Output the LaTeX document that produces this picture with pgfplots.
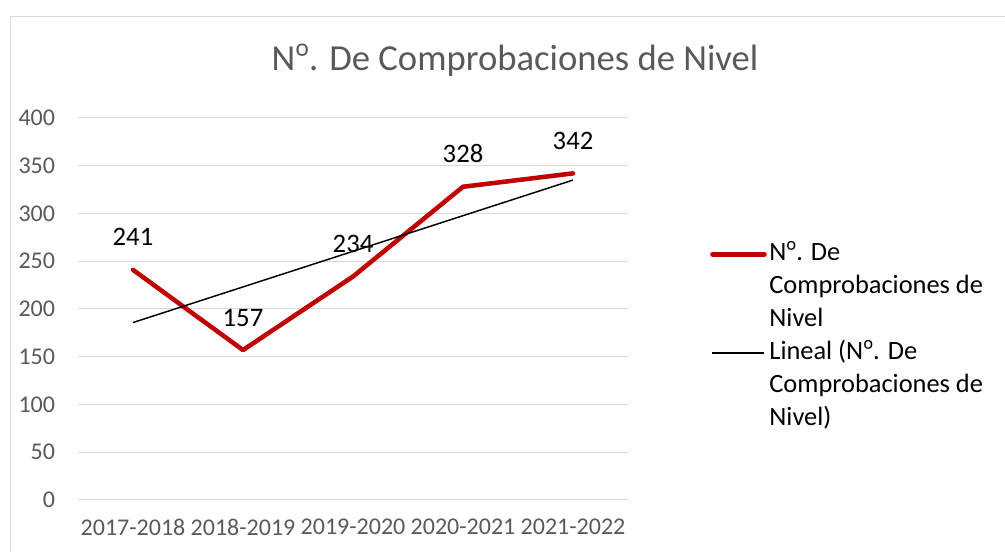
\documentclass[border=0pt]{standalone}
\usepackage{pgfplots}
\pgfplotsset{compat=1.18}
\usepackage{fontspec}
\setmainfont{Carlito}
\newfontfamily\os{Open Sans}
\newcommand{\No}{N{\os º}}
\definecolor{serred}{HTML}{C00000}
\definecolor{gridc}{HTML}{D9D9D9}
\definecolor{tickc}{HTML}{595959}
\begin{document}
\begin{tikzpicture}[x=0.75pt,y=0.75pt]
\useasboundingbox (0,0) rectangle (1005,552);
\draw[gridc, line width=0.75pt] (10,-20) -- (10,535) -- (1030,535);
\node[text=tickc, font=\fontsize{27.5}{32}\selectfont, inner sep=0pt] at (515,492) {\No. De Comprobaciones de Nivel};
\begin{axis}[
  at={(58.5pt,39pt)}, anchor=south west,
  width=412.5pt, height=286.5pt, scale only axis,
  xmin=-0.5, xmax=4.5, ymin=0, ymax=400,
  axis line style={draw=none},
  tick style={draw=none},
  ymajorgrids, grid style={gridc, line width=0.75pt},
  ytick={0,50,...,400},
  xtick={0,...,4},
  xticklabels={2017-2018,2018-2019,2019-2020,2020-2021,2021-2022},
  ticklabel style={font=\fontsize{18}{21}\selectfont, text=tickc},
  yticklabel style={inner sep=0pt, anchor=east, xshift=-17pt},
  xticklabel style={inner sep=0pt, anchor=north, yshift=-14pt},
  /pgf/number format/assume math mode=true,
  clip=false,
  legend style={at={(1.149,0.694)}, anchor=north west, draw=none, fill=none,
    font=\fontsize{19.8}{24.75}\selectfont, inner sep=0pt, row sep=26pt,
    cells={anchor=west}},
  legend image code/.code={\draw[#1] (0pt,9.5pt) -- (39pt,9.5pt);},
]
\addplot[serred, line width=3.4pt, line join=round, line cap=round,
  nodes near coords,
  every node near coord/.append style={anchor=base, yshift=18pt, inner sep=0pt,
    text=black, font=\fontsize{20}{24}\selectfont}]
  coordinates {(0,241) (1,157) (2,234) (3,328) (4,342)};
\addlegendentry{\begin{tabular}{@{}l@{}}\No. De\\Comprobaciones de\\Nivel\end{tabular}}
\addplot[black, line width=1.1pt] coordinates {(0,185.8) (4,335)};
\addlegendentry{\begin{tabular}{@{}l@{}}Lineal (\No. De\\Comprobaciones de\\Nivel)\end{tabular}}
\end{axis}
\end{tikzpicture}
\end{document}
